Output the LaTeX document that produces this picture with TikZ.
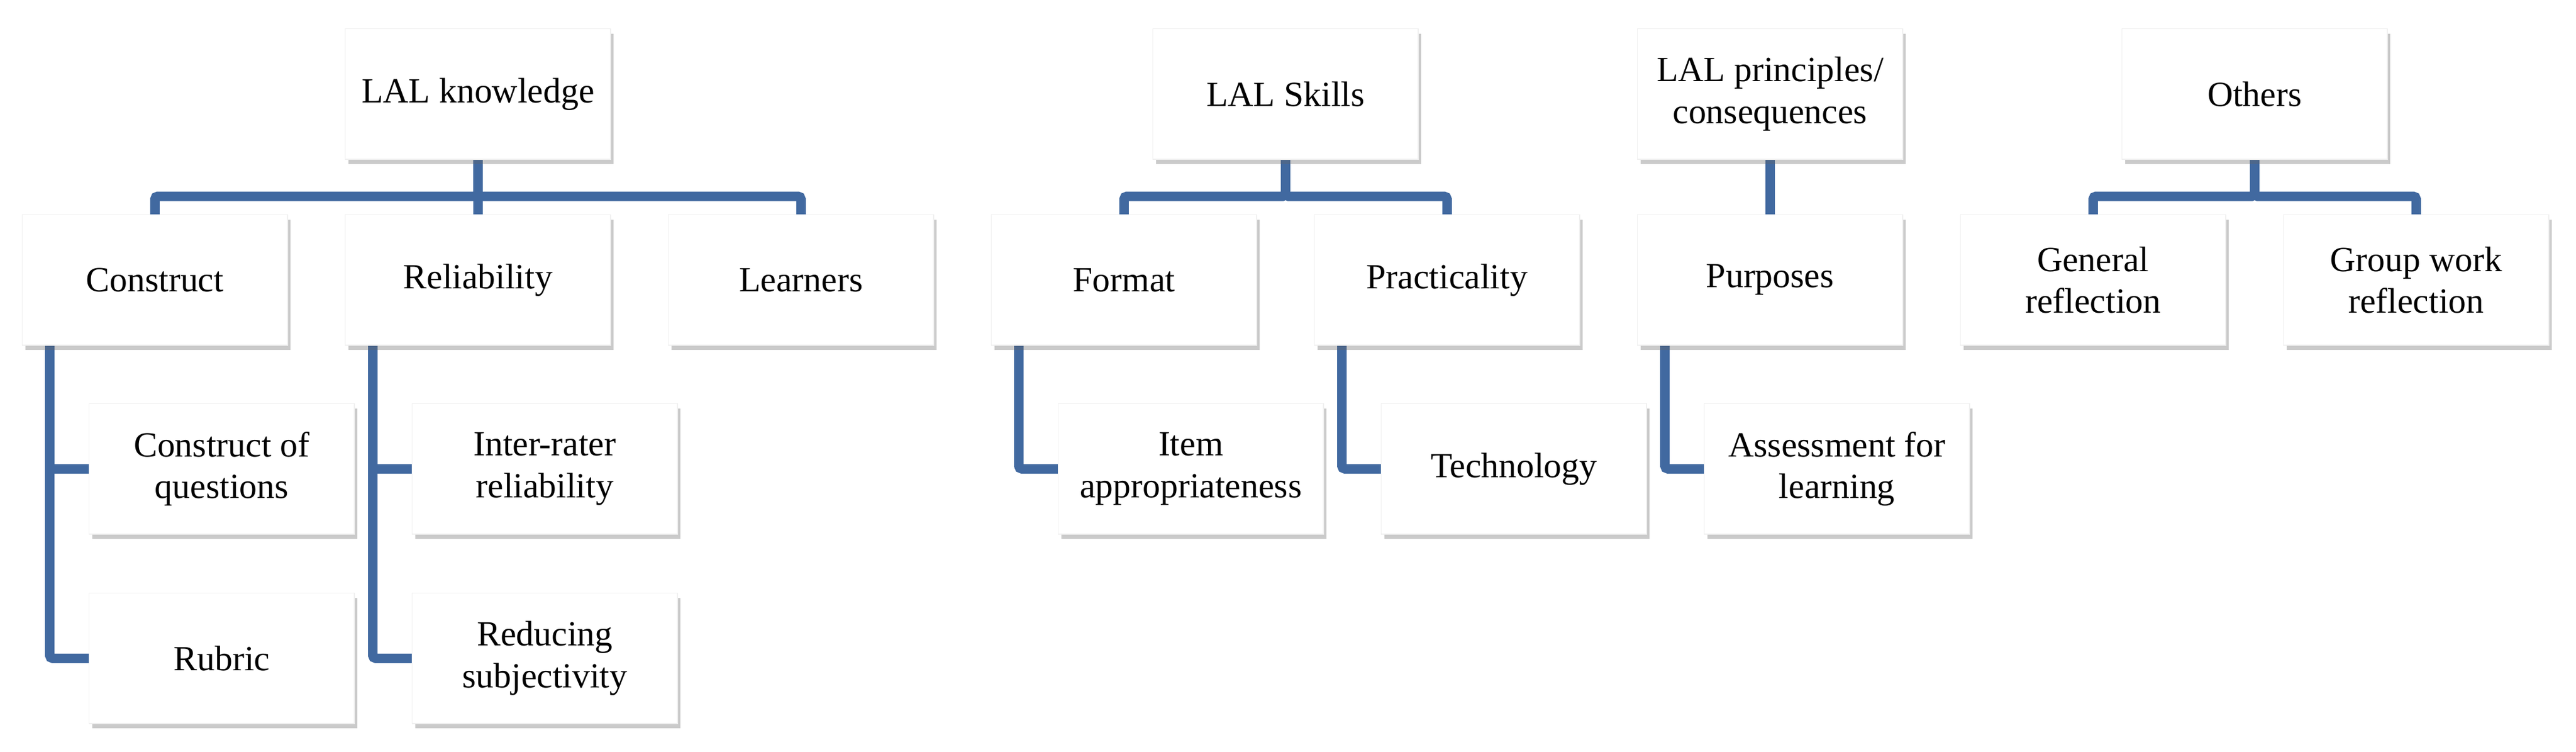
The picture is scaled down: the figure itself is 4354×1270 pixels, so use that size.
\documentclass[tikz,border=0pt]{standalone}
\usepackage{fontspec}
\setmainfont{Liberation Serif}
\usetikzlibrary{shadows,backgrounds}
\definecolor{ln}{HTML}{4169A0}
\begin{document}
\begin{tikzpicture}[x=0.01cm,y=-0.01cm,
  box/.style={draw=black!6,fill=white,minimum width=4.48cm,minimum height=2.2cm,
    align=center,anchor=north west,inner sep=0pt,font=\fontsize{17}{20}\selectfont,
    drop shadow={shadow xshift=0.05cm,shadow yshift=-0.08cm,opacity=0.35,fill=black!60}},
  con/.style={draw=ln,line width=0.16cm,rounded corners=0.05cm}]
\useasboundingbox (0,0) rectangle (4354,1270);
\node[box] (k) at (583,48) {LAL knowledge};
\node[box] (c) at (37,362) {Construct};
\node[box] (r) at (583,362) {Reliability};
\node[box] (l) at (1129,362) {Learners};
\node[box] (cq) at (150,681) {Construct of\\questions};
\node[box] (ru) at (150,1001) {Rubric};
\node[box] (ir) at (696,681) {Inter-rater\\reliability};
\node[box] (rs) at (696,1001) {Reducing\\subjectivity};
\node[box] (s) at (1948,48) {LAL Skills};
\node[box] (f) at (1675,362) {Format};
\node[box] (p) at (2221,362) {Practicality};
\node[box] (ia) at (1788,681) {Item\\appropriateness};
\node[box] (t) at (2334,681) {Technology};
\node[box] (lp) at (2767,48) {LAL principles/\\consequences};
\node[box] (pu) at (2767,362) {Purposes};
\node[box] (af) at (2880,681) {Assessment for\\learning};
\node[box] (o) at (3586,48) {Others};
\node[box] (g) at (3313,362) {General\\reflection};
\node[box] (gw) at (3859,362) {Group work\\reflection};
\begin{scope}[on background layer]
\foreach \a/\b in {k/c,k/r,k/l,s/f,s/p,lp/pu,o/g,o/gw}
  \draw[con] (\a.south) -- ++(0,62) -| (\b.north);
\foreach \a/\b in {c/cq,c/ru,r/ir,r/rs,f/ia,p/t,pu/af}
  \draw[con] ([xshift=0.47cm]\a.south west) |- (\b.west);
\end{scope}
\end{tikzpicture}
\end{document}
